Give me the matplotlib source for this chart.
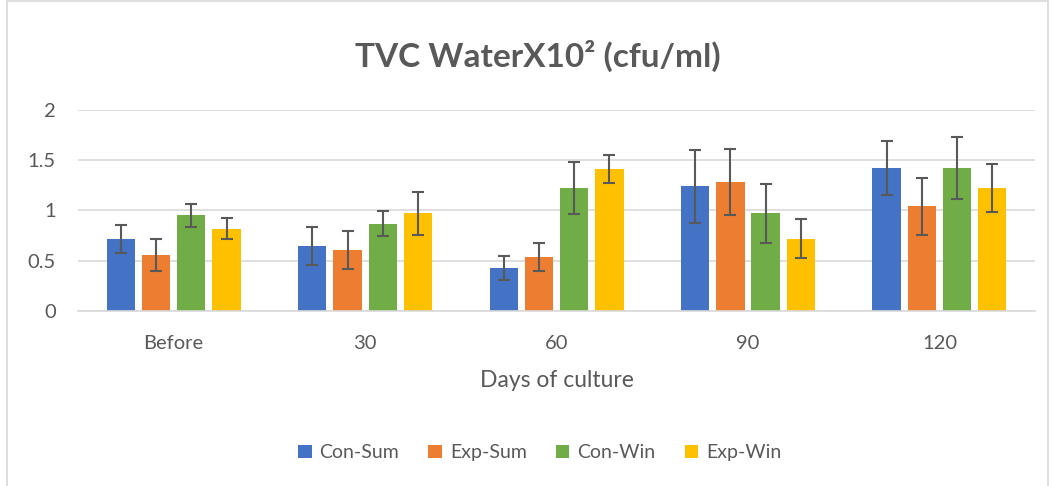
import numpy as np
import matplotlib
matplotlib.use("Agg")
import matplotlib.pyplot as plt
from matplotlib.patches import Rectangle

# TVC water counts (x10^2 cfu/ml) by days of culture
categories = ["Before", "30", "60", "90", "120"]
series = ["Con-Sum", "Exp-Sum", "Con-Win", "Exp-Win"]
con_sum = [0.72, 0.65, 0.43, 1.24, 1.42]
exp_sum = [0.56, 0.61, 0.54, 1.28, 1.04]
con_win = [0.95, 0.87, 1.22, 0.97, 1.42]
exp_win = [0.82, 0.97, 1.41, 0.72, 1.22]
con_sum_err = [0.14, 0.19, 0.12, 0.36, 0.27]
exp_sum_err = [0.16, 0.19, 0.14, 0.33, 0.28]
con_win_err = [0.11, 0.12, 0.26, 0.29, 0.31]
exp_win_err = [0.10, 0.21, 0.14, 0.19, 0.24]

values = [con_sum, exp_sum, con_win, exp_win]
errors = [con_sum_err, exp_sum_err, con_win_err, exp_win_err]
colors = ["#4472C4", "#ED7D31", "#70AD47", "#FFC000"]

plt.rcParams['font.family'] = ['Lato', 'DejaVu Sans']
txt = "#595959"

fig = plt.figure(figsize=(10.52, 4.86), dpi=100)
ax = fig.add_axes([0.0741, 0.36, 0.9099, 0.414])

x = np.arange(len(categories))
step = 0.184
width = 0.148
for i in range(4):
    pos = x + (i - 1.5) * step
    ax.bar(pos, values[i], width, color=colors[i], label=series[i], zorder=2)
    ax.errorbar(pos, values[i], yerr=errors[i], fmt="none", ecolor=txt,
                elinewidth=1.5, capsize=4.5, capthick=1.5, zorder=3)

ax.set_xlim(-0.5, len(categories) - 0.5)
ax.set_ylim(0, 2)
ax.set_yticks([0, 0.5, 1, 1.5, 2])
ax.set_yticklabels(["0", "0.5", "1", "1.5", "2"])
ax.set_xticks(x)
ax.set_xticklabels(categories)
ax.grid(axis="y", color="#d9d9d9", linewidth=1.2, zorder=0)
ax.set_axisbelow(True)
for s in ["top", "right", "left"]:
    ax.spines[s].set_visible(False)
ax.spines["bottom"].set_color("#d9d9d9")
ax.spines["bottom"].set_linewidth(1.2)
ax.tick_params(axis="both", length=0, colors=txt, labelsize=14.5)
ax.tick_params(axis="x", pad=17)
ax.tick_params(axis="y", pad=16)

ax.set_xlabel("Days of culture", fontsize=16.5, color=txt, labelpad=13)
fig.text(0.511, 0.885, "TVC WaterX10² (cfu/ml)", ha="center", va="center",
         fontsize=24, fontweight="bold", color=txt)

fig.legend(loc="center", bbox_to_anchor=(0.513, 0.068), ncol=4, frameon=False,
           fontsize=14, labelcolor=txt, handlelength=0.7, handleheight=0.7,
           handletextpad=0.4, columnspacing=1.5)

fig.patches.append(Rectangle((0.007, -0.01), 0.989, 1.007, transform=fig.transFigure,
                             fill=False, edgecolor="#d9d9d9", linewidth=1.2))

plt.savefig("out.png", dpi=100)
